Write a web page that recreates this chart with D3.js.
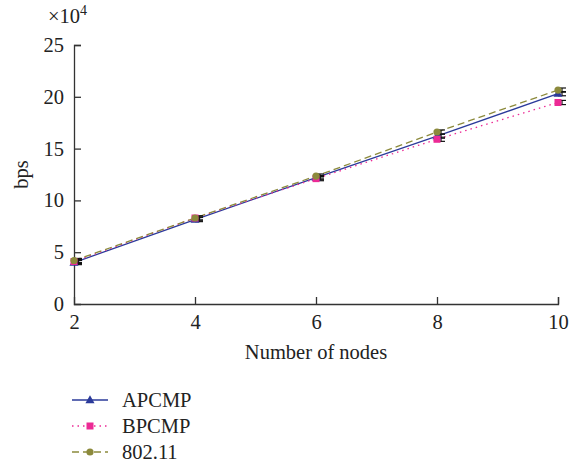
<!DOCTYPE html>
<meta charset="utf-8">
<script src="https://d3js.org/d3.v7.min.js"></script>
<style>
body { margin: 0; background: #fff; }
svg text { font-family: "Liberation Serif", "DejaVu Serif", serif; fill: #222; }
</style>
<div id="chart"></div>
<script>
// data (bps, x10^4)
var nodes = [2, 4, 6, 8, 10];
var apcmp = [4.0, 8.15, 12.2, 16.2, 20.3];
var bpcmp = [4.1, 8.3, 12.1, 15.9, 19.45];
var wifi = [4.2, 8.3, 12.35, 16.6, 20.65];
var seriesNames = ["APCMP", "BPCMP", "802.11"];
var yTicks = [0, 5, 10, 15, 20, 25];

var W = 580, H = 466;
var margin = { top: 45, right: 22, bottom: 162, left: 74 };
var FS = 20.5;

var svg = d3.select("#chart").append("svg")
  .attr("width", W).attr("height", H);

var x = d3.scaleLinear().domain([2, 10]).range([margin.left, W - margin.right]);
var y = d3.scaleLinear().domain([0, 25]).range([H - margin.bottom, margin.top]);

var series = [
  { name: seriesNames[0], values: apcmp, color: "#2b3a9a", dash: null, marker: "triangle" },
  { name: seriesNames[1], values: bpcmp, color: "#ec2a95", dash: "1.5,4", marker: "square" },
  { name: seriesNames[2], values: wifi, color: "#8c8a3c", dash: "7,4", marker: "circle" }
];

// axes (ticks point inward)
var xAxis = svg.append("g")
  .attr("transform", "translate(0," + y(0) + ")")
  .call(d3.axisBottom(x).tickValues(nodes).tickSize(-7).tickPadding(10));
var yAxis = svg.append("g")
  .attr("transform", "translate(" + x(2) + ",0)")
  .call(d3.axisLeft(y).tickValues(yTicks).tickSize(-7).tickPadding(10));
[xAxis, yAxis].forEach(function (g) {
  g.select(".domain").attr("stroke", "#333").attr("stroke-width", 1.3);
  g.selectAll(".tick line").attr("stroke", "#333").attr("stroke-width", 1.3);
  g.selectAll(".tick text").attr("font-size", FS).attr("fill", "#222")
    .style("font-family", "Liberation Serif, serif");
});
yAxis.select(".tick line").remove(); // no tick at 0
xAxis.select(".tick line").remove();

// multiplier
var mult = svg.append("text").attr("x", 48).attr("y", 23).attr("font-size", FS);
mult.append("tspan").text("\u00d710");
mult.append("tspan").attr("font-size", 14).attr("dy", -8).text("4");

// axis titles
svg.append("text")
  .attr("transform", "translate(28," + y(12.5) + ") rotate(-90)")
  .attr("text-anchor", "middle").attr("font-size", FS).text("bps");
svg.append("text")
  .attr("x", (x(2) + x(10)) / 2).attr("y", 359)
  .attr("text-anchor", "middle").attr("font-size", FS).text("Number of nodes");

function drawMarker(g, type, cx, cy, color) {
  if (type === "triangle") {
    g.append("path").attr("d", d3.symbol().type(d3.symbolTriangle).size(36)())
      .attr("transform", "translate(" + cx + "," + (cy + 0.5) + ")").attr("fill", color);
  } else if (type === "square") {
    g.append("rect").attr("x", cx - 3.5).attr("y", cy - 3.5).attr("width", 7).attr("height", 7)
      .attr("fill", color);
  } else {
    g.append("circle").attr("cx", cx).attr("cy", cy).attr("r", 3.6).attr("fill", color);
  }
}

var line = d3.line().x(function (d, i) { return x(nodes[i]); }).y(function (d) { return y(d); });

series.forEach(function (s) {
  svg.append("path").datum(s.values)
    .attr("d", line).attr("fill", "none")
    .attr("stroke", s.color).attr("stroke-width", 1.3)
    .attr("stroke-dasharray", s.dash);
});

// small error bars
series.forEach(function (s) {
  var g = svg.append("g");
  s.values.forEach(function (v, i) {
    var cx = x(nodes[i]) + 4;
    var e = 0.2;
    g.append("line").attr("x1", cx).attr("x2", cx).attr("y1", y(v - e)).attr("y2", y(v + e))
      .attr("stroke", "#111").attr("stroke-width", 1.2);
    [v - e, v + e].forEach(function (t) {
      g.append("line").attr("x1", cx - 4).attr("x2", cx + 4).attr("y1", y(t)).attr("y2", y(t))
        .attr("stroke", "#111").attr("stroke-width", 1.2);
    });
  });
});

series.forEach(function (s) {
  var g = svg.append("g");
  s.values.forEach(function (v, i) { drawMarker(g, s.marker, x(nodes[i]), y(v), s.color); });
});

// legend
var legend = svg.append("g");
series.forEach(function (s, i) {
  var ly = 400 + i * 26;
  legend.append("line").attr("x1", 72).attr("x2", 108).attr("y1", ly).attr("y2", ly)
    .attr("stroke", s.color).attr("stroke-width", 1.3).attr("stroke-dasharray", s.dash);
  drawMarker(legend, s.marker, 90, ly, s.color);
  legend.append("text").attr("x", 122).attr("y", ly + 7).attr("font-size", FS).text(s.name);
});
</script>
